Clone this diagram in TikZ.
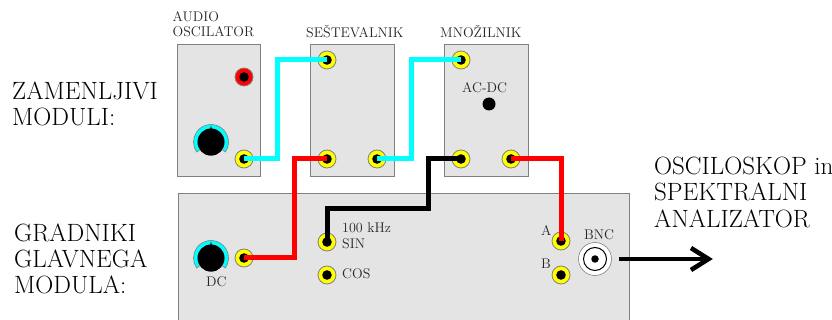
\documentclass[tikz,border=0pt]{standalone}
\definecolor{wcyan}{rgb}{0,1,1}
\definecolor{wred}{rgb}{1,0,0}
\definecolor{wyellow}{rgb}{1,1,0}
\tikzset{
 x=1pt,y=-1pt,
 panel/.style={draw=black!50,fill=black!10.5,line width=0.9pt},
 jack/.style={circle,draw=black!50,line width=0.8pt,fill=#1,minimum size=18pt,inner sep=0pt,
   path picture={\fill[black] (path picture bounding box.center) circle (4.8pt);}},
 jack/.default=wyellow,
 wire/.style={line width=5pt,draw=#1,line join=miter},
 lab/.style={font=\fontsize{14}{16}\selectfont,inner sep=0pt,anchor=base west,text=black!85,align=left},
 big/.style={font=\fontsize{25}{30}\selectfont,inner sep=0pt,anchor=base west,align=left},
 knobbody/.style={circle,fill=black,minimum size=27pt,inner sep=0pt},
}
\newcommand{\knobdial}[1]{%
  \fill[wcyan,draw=black!50,line width=0.6pt] ([shift={(-35:17.5pt)}]#1.center) arc[start angle=-35,end angle=215,radius=17.5pt]
     -- ([shift={(215:13pt)}]#1.center) arc[start angle=215,end angle=-35,radius=13pt] -- cycle;
}
\begin{document}
\begin{tikzpicture}
\useasboundingbox (0,0) rectangle (832,320);
\clip (0,0) rectangle (832,320);
% panels
\draw[panel] (177,44) rectangle (260.5,176);
\draw[panel] (310.5,44) rectangle (394,176);
\draw[panel] (444.5,44) rectangle (528,176);
\draw[panel] (178,193) rectangle (629,330);
% knobs
\node[knobbody] (k1) at (211,142) {};
\node[knobbody] (k2) at (211,258) {};
\begin{scope}[y=1pt]
\knobdial{k1}\knobdial{k2}
\end{scope}
\node[knobbody] at (k1) {};
\node[knobbody] at (k2) {};
\fill[black] (210,130) -- (211,125.5) -- (212,130) -- cycle;
\fill[black] (210,246) -- (211,241.5) -- (212,246) -- cycle;
% jacks
\node[jack=wred] (r1) at (244,77) {};
\node[jack] (ao) at (244,159) {};
\node[jack] (s1) at (327,60) {};
\node[jack] (s2) at (327,159) {};
\node[jack] (s3) at (377,159) {};
\node[jack] (m1) at (461,60) {};
\node[jack] (m2) at (461,159) {};
\node[jack] (m3) at (511,159) {};
\node[jack] (dc) at (244,258) {};
\node[jack] (sin) at (327,242) {};
\node[jack] (cos) at (327,275) {};
\node[jack] (a) at (561,241) {};
\node[jack] (b) at (561,275) {};
\node[circle,fill=black,minimum size=13pt,inner sep=0pt] (acdc) at (489,104) {};
% BNC
\node[circle,draw=black!50,fill=white,line width=0.6pt,minimum size=33pt,inner sep=0pt] (bnc) at (595,259) {};
\node[circle,draw=black,fill=white,line width=1pt,minimum size=23pt,inner sep=0pt] (bnci) at (595,259) {};
\node[circle,fill=black,minimum size=7.5pt,inner sep=0pt] (bncc) at (595,259) {};
% wires
\coordinate (sink) at (708.5,259);
\coordinate (src) at (619,259);
\draw[wire=wcyan] (ao.center) -- (277,159) -- (277,60) -- (s1.center);
\draw[wire=wcyan] (s3.center) -- (411,159) -- (411,60) -- (m1.center);
\draw[wire=wred] (s2.center) -- (294,159) -- (294,258) -- (dc.center);
\draw[wire=wred] (m3.center) -- (561,159) -- (a.center);
\draw[wire=black] (m2.center) -- (428,159) -- (428,209) -- (327,209) -- (sin.center);
\draw[line width=4.6pt,black] (src) -- (sink);
\draw[line width=4.6pt,black] (691,248) -- (sink) -- (691,270);
% labels
\node[lab] (t1) at (172.5,22) {AUDIO};
\node[lab] (t2) at (172.5,37) {OSCILATOR};
\node[lab] (t3) at (306,38) {SEŠTEVALNIK};
\node[lab] (t4) at (440,38) {MNOŽILNIK};
\node[lab] (t5) at (462,93) {AC-DC};
\node[lab] (t6) at (206,286) {DC};
\node[lab] (t7) at (342,233) {100 kHz};
\node[lab] (t8) at (342,248) {SIN};
\node[lab] (t9) at (342,279) {COS};
\node[lab] (t10) at (541,236) {A};
\node[lab] (t11) at (541,269) {B};
\node[lab] (t12) at (584,240) {BNC};
\node[big] (z1) at (12,100) {ZAMENLJIVI};
\node[big] (z2) at (12,126) {MODULI:};
\node[big] (g1) at (14,242) {GRADNIKI};
\node[big] (g2) at (14,268) {GLAVNEGA};
\node[big] (g3) at (14,293.5) {MODULA:};
\node[big] (o1) at (654,174.5) {OSCILOSKOP in};
\node[big] (o2) at (654,201) {SPEKTRALNI};
\node[big] (o3) at (654,227.5) {ANALIZATOR};
\end{tikzpicture}
\end{document}
